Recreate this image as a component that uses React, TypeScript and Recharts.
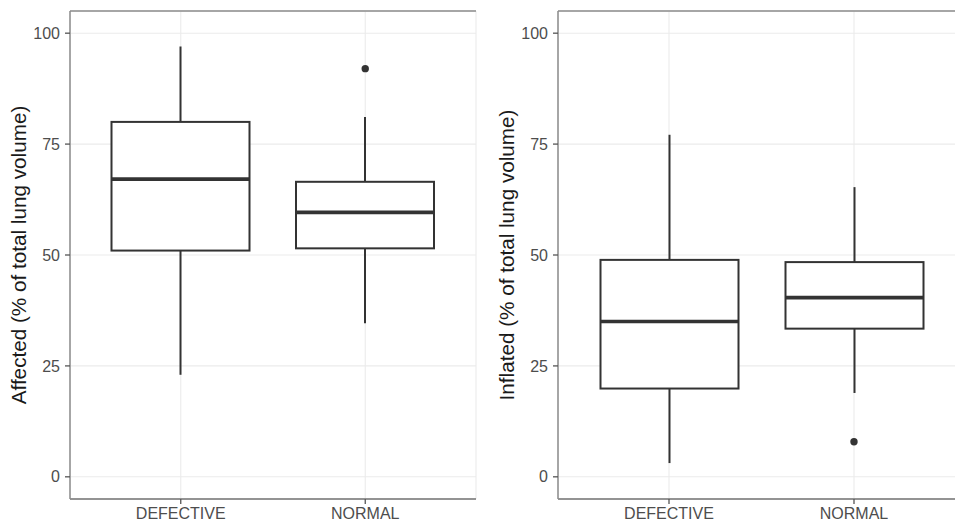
import React from 'react'
import { ComposedChart, Bar, Scatter, XAxis, YAxis, CartesianGrid, Label } from 'recharts'

const categories = ['DEFECTIVE', 'NORMAL']
const yTicks = [0, 25, 50, 75, 100]
const yMinorTicks = [12.5, 37.5, 62.5, 87.5]
const yDomain = [-5, 105]

// Affected (% of total lung volume)
const affectedLow = [23, 34.6]
const affectedQ1 = [51, 51.5]
const affectedMedian = [67.1, 59.6]
const affectedQ3 = [80, 66.5]
const affectedHigh = [97, 81.1]
const affectedOutliers = [{ cat: 'NORMAL', value: 92 }]

// Inflated (% of total lung volume)
const inflatedLow = [3.1, 18.9]
const inflatedQ1 = [19.9, 33.4]
const inflatedMedian = [35, 40.4]
const inflatedQ3 = [48.9, 48.4]
const inflatedHigh = [77.1, 65.3]
const inflatedOutliers = [{ cat: 'NORMAL', value: 7.9 }]

const ink = '#333333'
const font = '"Liberation Sans", Arial, Helvetica, sans-serif'

const buildRows = (low: number[], q1: number[], median: number[], q3: number[], high: number[]) =>
  categories.map((cat, i) => ({
    cat,
    range: [low[i], high[i]],
    low: low[i],
    q1: q1[i],
    median: median[i],
    q3: q3[i],
    high: high[i],
  }))

const BoxShape = (props: any) => {
  const { x, y, width, height, payload } = props
  const { low, high, q1, median, q3 } = payload
  // map a value into the bar's pixel span (bar spans low..high)
  const py = (v: number) => y + ((high - v) / (high - low)) * height
  const cx = x + width / 2
  return (
    <g>
      <line x1={cx} x2={cx} y1={py(high)} y2={py(q3)} stroke={ink} strokeWidth={2} />
      <line x1={cx} x2={cx} y1={py(q1)} y2={py(low)} stroke={ink} strokeWidth={2} />
      <rect x={x} y={py(q3)} width={width} height={py(q1) - py(q3)} fill="#fff" stroke={ink} strokeWidth={2} />
      <line x1={x} x2={x + width} y1={py(median)} y2={py(median)} stroke={ink} strokeWidth={3.6} />
    </g>
  )
}

const OutlierDot = (props: any) => <circle cx={props.cx} cy={props.cy} r={3.7} fill={ink} />

interface PanelProps {
  label: string
  rows: ReturnType<typeof buildRows>
  outliers: { cat: string; value: number }[]
  width: number
  yAxisWidth: number
  marginRight: number
}

function Panel({ label, rows, outliers, width, yAxisWidth, marginRight }: PanelProps) {
  const border = '#8c8c8c'
  return (
    <ComposedChart
      width={width}
      height={523}
      data={rows}
      margin={{ top: 11, right: marginRight, bottom: 0, left: 0 }}
      style={{ fontFamily: font }}
    >
      {/* minor horizontal grid */}
      <CartesianGrid yAxisId="minor" vertical={false} stroke="#f3f3f3" strokeWidth={0.8} />
      {/* major grid */}
      <CartesianGrid stroke="#ebebeb" strokeWidth={1.1} />
      {/* top edge of the panel frame */}
      <CartesianGrid yAxisId="frame" vertical={false} stroke={border} strokeWidth={1.5} />
      <XAxis
        dataKey="cat"
        type="category"
        allowDuplicatedCategory={false}
        padding={{ left: 18.5, right: 18.5 }}
        height={24}
        tickSize={5}
        tickMargin={4}
        tickLine={{ stroke: '#555', strokeWidth: 1.3 }}
        axisLine={{ stroke: border, strokeWidth: 1.5 }}
        tick={{ fontSize: 16, fill: '#4d4d4d', fontFamily: font }}
      />
      <YAxis
        type="number"
        domain={yDomain}
        ticks={yTicks}
        width={yAxisWidth}
        tickSize={5}
        tickMargin={5}
        tickLine={{ stroke: '#555', strokeWidth: 1.3 }}
        axisLine={{ stroke: border, strokeWidth: 1.5 }}
        tick={{ fontSize: 16, fill: '#4d4d4d', fontFamily: font }}
      >
        <Label
          content={(p: any) => {
            const vb = p.viewBox
            const lx = vb.x + vb.width - 52
            const ly = vb.y + vb.height / 2
            return (
              <text
                x={lx}
                y={ly}
                transform={`rotate(-90 ${lx} ${ly})`}
                textAnchor="middle"
                dominantBaseline="central"
                fontSize={20.7}
                fill="#1a1a1a"
                fontFamily={font}
              >
                {label}
              </text>
            )
          }}
        />
      </YAxis>
      <YAxis yAxisId="minor" orientation="right" type="number" domain={yDomain} ticks={yMinorTicks} width={0} tick={false} tickLine={false} axisLine={{ stroke: border, strokeWidth: 1.5 }} />
      <YAxis yAxisId="frame" orientation="right" type="number" domain={yDomain} ticks={[yDomain[1]]} width={0} tick={false} tickLine={false} axisLine={false} />
      <Bar dataKey="range" barSize={138} shape={<BoxShape />} isAnimationActive={false} />
      <Scatter data={outliers} dataKey="value" shape={<OutlierDot />} isAnimationActive={false} />
    </ComposedChart>
  )
}

export default function App() {
  const affectedRows = buildRows(affectedLow, affectedQ1, affectedMedian, affectedQ3, affectedHigh)
  const inflatedRows = buildRows(inflatedLow, inflatedQ1, inflatedMedian, inflatedQ3, inflatedHigh)
  return (
    <div style={{ position: 'absolute', left: 0, top: 0, width: 955, height: 523, overflow: 'hidden', background: '#fff' }}>
      <div style={{ position: 'absolute', left: 0, top: 0 }}>
        <Panel
          label="Affected (% of total lung volume)"
          rows={affectedRows}
          outliers={affectedOutliers}
          width={480}
          yAxisWidth={70}
          marginRight={4}
        />
      </div>
      <div style={{ position: 'absolute', left: 480, top: 0 }}>
        <Panel
          label="Inflated (% of total lung volume)"
          rows={inflatedRows}
          outliers={inflatedOutliers}
          width={490}
          yAxisWidth={78}
          marginRight={5}
        />
      </div>
    </div>
  )
}
